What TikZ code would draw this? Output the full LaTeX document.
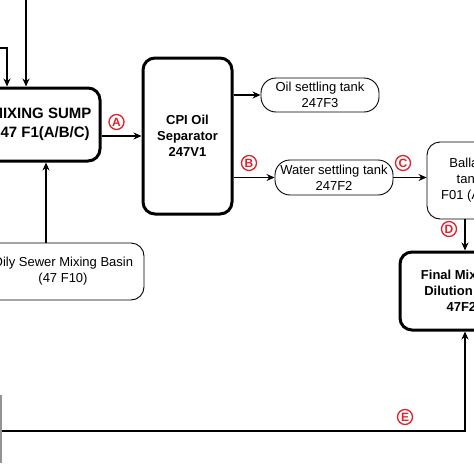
\documentclass[tikz,border=0pt]{standalone}
\usepackage{fontspec}
\setmainfont{Liberation Sans}
\usetikzlibrary{arrows.meta}
\definecolor{lblred}{RGB}{222,35,45}
\tikzset{
  thickbox/.style={draw, rectangle, rounded corners=12pt, line width=3pt, align=center,
    font=\fontsize{13}{16}\selectfont\bfseries, inner sep=0pt},
  thinbox/.style={draw, rectangle, rounded corners=13pt, line width=0.9pt, align=center,
    font=\fontsize{13}{16}\selectfont, inner sep=0pt},
  arr/.style={line width=1.3pt, -{Stealth[length=8pt,width=7pt]}},
  lab/.style={circle, draw=lblred, text=lblred, line width=1.3pt, inner sep=0pt,
    minimum size=15pt, font=\fontsize{12}{12}\selectfont\bfseries},
}
\begin{document}
\begin{tikzpicture}[x=1pt,y=-1pt]
\clip (0,0) rectangle (474,474);
\fill[white] (0,0) rectangle (474,474);
% boxes
\node[thickbox, font=\fontsize{15}{19.5}\selectfont\bfseries, minimum width=118pt, minimum height=73pt] (sump) at (41,124.5) {MIXING SUMP\\247 F1(A/B/C)};
\node[thickbox, minimum width=89pt, minimum height=156pt] (cpi) at (187.5,136) {CPI Oil\\Separator\\247V1};
\node[thinbox, rounded corners=15pt, minimum width=118pt, minimum height=34pt] (oilst) at (320,95) {Oil settling tank\\247F3};
\node[thinbox, rounded corners=15pt, minimum width=118pt, minimum height=35pt] (water) at (334,177.5) {Water settling tank\\247F2};
\node[thinbox, minimum width=84pt, minimum height=77pt] (ballast) at (469,180.5) {Ballast\\tank\\F01 (A/B)};
\node[thickbox, minimum width=130pt, minimum height=78pt] (final) at (465,291) {Final Mixing \&\\Dilution Tank\\47F20};
\node[thinbox, minimum width=162pt, minimum height=57pt] (oily) at (63,271.5) {Oily Sewer Mixing Basin\\(47 F10)};
% free ends
\coordinate (t1) at (-10,48);
\coordinate (t2) at (26,-10);
\coordinate (t1x) at (7,0);
\coordinate (osx) at (46,0);
\coordinate (e0) at (-10,431);
% connectors
\draw[arr] (t1) -| (sump.north -| t1x);
\draw[arr] (t2) -- (sump.north -| t2);
\draw[arr] (oily.north -| osx) -- (sump.south -| osx);
\draw[arr] (sump.east |- cpi.west) -- (cpi.west);
\draw[arr] (cpi.east |- oilst.west) -- (oilst.west);
\draw[arr] (cpi.east |- water.west) -- (water.west);
\draw[arr] (water.east) -- (ballast.west |- water.east);
\draw[arr] (ballast.south -| final.north) -- (final.north);
\draw[arr] (e0) -| (final.south);
% edge of a box at lower left
\draw[gray!85, line width=2pt] (1,395) -- (1,463);
% labels
\node[lab] (la) at (116.5,122) {A};
\node[lab] (lb) at (249,163) {B};
\node[lab] (lc) at (403,163) {C};
\node[lab] (ld) at (449,229) {D};
\node[lab] (le) at (405,417) {E};
\end{tikzpicture}
\end{document}
